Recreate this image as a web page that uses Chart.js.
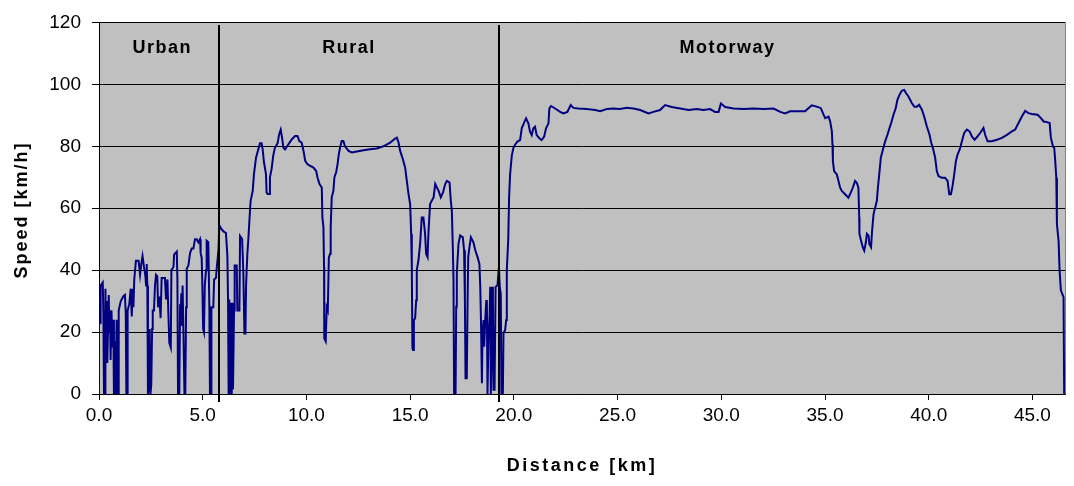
<!DOCTYPE html>
<html><head><meta charset="utf-8">
<script src="https://cdn.jsdelivr.net/npm/chart.js@4/dist/chart.umd.min.js"></script>
<style>html,body{margin:0;padding:0;background:#fff;}#wrap{width:1074px;height:486px;}</style>
</head><body><div id="wrap"><canvas id="c" width="1074" height="486"></canvas></div>
<script>
const distanceKm = [
0.0,0.0,0.05,0.08,0.18,0.21,0.24,0.29,0.31,0.34,0.37,0.40,0.47,0.50,0.53,0.56,0.60,0.66,0.69,0.72,
0.77,0.80,0.85,0.88,0.93,0.95,1.05,1.17,1.25,1.29,1.32,1.37,1.38,1.46,1.53,1.58,1.62,1.66,1.70,1.78,
1.91,1.98,2.04,2.10,2.17,2.23,2.27,2.30,2.33,2.36,2.41,2.44,2.48,2.52,2.56,2.59,2.65,2.70,2.75,2.81,
2.85,2.91,2.97,3.02,3.18,3.23,3.30,3.34,3.39,3.46,3.49,3.59,3.62,3.75,3.78,3.81,3.87,3.91,3.94,3.97,
4.00,4.03,4.07,4.12,4.16,4.20,4.23,4.31,4.39,4.47,4.55,4.63,4.71,4.79,4.87,4.90,4.95,4.98,5.02,5.06,
5.10,5.16,5.19,5.27,5.32,5.35,5.40,5.42,5.51,5.55,5.64,5.68,5.76,5.80,5.88,6.00,6.12,6.19,6.22,6.25,
6.28,6.32,6.35,6.40,6.42,6.46,6.51,6.54,6.64,6.67,6.77,6.80,6.90,6.96,7.01,7.06,7.09,7.15,7.20,7.25,
7.31,7.41,7.47,7.57,7.68,7.76,7.84,7.89,7.95,8.05,8.08,8.13,8.21,8.24,8.32,8.40,8.48,8.61,8.69,8.76,
8.82,8.89,8.97,9.13,9.29,9.45,9.57,9.66,9.77,9.86,9.94,10.05,10.18,10.34,10.47,10.53,10.63,10.74,10.77,10.82,
10.85,10.86,10.93,10.98,11.03,11.08,11.14,11.17,11.22,11.30,11.35,11.43,11.50,11.56,11.62,11.70,11.78,11.86,12.03,12.19,
12.43,12.75,13.07,13.39,13.71,14.04,14.28,14.36,14.44,14.52,14.65,14.76,14.84,14.92,15.00,15.05,15.08,15.11,15.14,15.18,
15.24,15.29,15.32,15.40,15.48,15.56,15.64,15.72,15.77,15.84,15.88,15.96,16.04,16.13,16.21,16.29,16.37,16.48,16.58,16.69,
16.77,16.90,16.96,17.01,17.06,17.09,17.12,17.19,17.22,17.25,17.33,17.41,17.54,17.60,17.64,17.67,17.73,17.77,17.80,17.86,
17.93,18.05,18.14,18.25,18.34,18.38,18.42,18.46,18.49,18.54,18.57,18.62,18.67,18.70,18.73,18.78,18.83,18.86,18.89,18.92,
18.96,18.99,19.02,19.07,19.12,19.21,19.28,19.32,19.37,19.40,19.47,19.50,19.58,19.63,19.66,19.73,19.77,19.82,19.90,19.98,
20.06,20.17,20.30,20.38,20.51,20.59,20.70,20.78,20.86,20.94,21.02,21.10,21.23,21.34,21.46,21.55,21.67,21.71,21.79,21.99,
22.23,22.39,22.58,22.74,22.87,23.11,23.51,23.92,24.16,24.48,24.80,25.12,25.44,25.77,26.09,26.49,26.73,27.05,27.29,27.61,
28.02,28.42,28.82,29.14,29.46,29.70,29.87,29.98,30.19,30.59,31.07,31.55,32.04,32.52,32.84,33.08,33.32,33.64,34.04,34.20,
34.36,34.60,34.80,34.93,35.01,35.17,35.25,35.33,35.36,35.38,35.44,35.57,35.65,35.73,35.81,35.97,36.13,36.24,36.34,36.45,
36.53,36.61,36.65,36.66,36.74,36.82,36.89,36.97,37.02,37.10,37.14,37.22,37.27,37.34,37.42,37.50,37.55,37.63,37.69,37.79,
37.90,38.01,38.11,38.19,38.30,38.41,38.49,38.59,38.70,38.82,38.91,39.03,39.19,39.31,39.43,39.54,39.67,39.78,39.91,40.04,
40.12,40.20,40.31,40.39,40.47,40.63,40.79,40.91,40.99,41.07,41.15,41.23,41.31,41.39,41.49,41.60,41.71,41.84,41.97,42.08,
42.21,42.32,42.48,42.64,42.72,42.84,43.04,43.29,43.53,43.77,44.01,44.17,44.33,44.49,44.65,44.81,44.97,45.25,45.41,45.54,
45.70,45.83,45.89,45.99,46.05,46.10,46.15,46.18,46.26,46.31,46.37,46.50,46.53
];
const speedKmh = [
0,22.4,23,35,36,27,0,0,34,12,30,10,32,20,27,11,27,15,24,0,
17,0,24,0,0,27,30,31.5,32,26,0,0,27,29,34,25,34,28,37,43,
43,38.5,42,44.5,41,38.5,35,42,35,0,2.5,21,0,3,21,27,27,35,38.5,38,
28,31.5,24.5,37.5,37.5,30.5,37,27,16.5,15,40,41,45,46,37,0,0,29,26,32.5,
22,35,20,0,0,28,40.5,41.5,45.5,47,47,50,50,49,50,45.5,44,36,21,20,
35,40,49.5,49,28,0,0,28,28,37,37.5,41,46.5,54.5,53.5,52.5,52,44.5,30.5,0,
30.5,0,29.5,0,29.5,1.5,27,41.5,41.5,27,27,51,50,39,19.5,19.5,35,45,50,56,
62.4,65.6,71,76.3,79,81,81,79,75,71,65,64.6,64.6,70,72.6,77,79.5,81,84,85.4,
83,79.5,79,80.6,82.2,83.3,83.3,81.7,81.2,78.5,75.3,74.2,73.7,73.1,72,70,67.8,66.7,57,53.9,
41,18,17,28,27,44,45.3,53.9,63.5,65.6,70,71.5,74.2,77.4,79.5,81.7,81.7,80,78.5,78,
78.3,78.7,79,79.3,80,81.2,82.5,82.8,81.2,78.5,75.8,73.1,68.8,64.6,61.3,51.7,41,14.8,14.2,23.9,
24.4,30.3,40,43.1,48.5,57,57,51.7,45.3,44.2,51.7,61.3,62.4,63.5,67.8,66.7,65.6,63.5,65,67.8,
68.8,68.3,62.4,59.2,46.4,36.7,0,0,28.2,38.9,48.5,51.2,50.6,46.4,30.3,5.1,5.1,30.3,44.2,47.4,
50.6,49,46.4,44.2,42,34.6,21.7,3.5,19.6,23.9,15.3,23.9,30.3,28.2,0,19.6,25,34.6,0,8.9,
34.6,30.3,1.4,1.4,34.6,35.1,41,34.6,32.4,0,0,19.6,20.7,23.9,40,50,63.5,71,77,79.5,
80.5,81.5,82,85.8,87.9,89,87.4,84.7,83.6,85.8,86.3,83.6,82.6,82,83.1,85.8,87.4,92.2,93,92.2,
91.1,90.6,91.1,93.3,92.4,92.2,92,91.7,91.3,92,92.2,92,92.4,92.2,91.7,90.6,91.1,91.7,93.3,92.7,
92.2,91.7,92,91.7,92,91.1,91.1,93.8,92.7,92.2,92,92.2,92,92.2,91.1,90.6,91.3,91.3,91.3,92.3,
93.2,92.8,92.3,90.2,89.1,89.6,88,84.8,80.5,75.2,72,70.9,68.8,66.6,65.6,64.5,63.4,65,66.6,68.8,
68.2,66.6,57,51.7,49.5,47.4,46.3,49,51.7,51.1,48.4,47.4,52.7,58.1,60.2,62.4,66.6,72,76.3,78.9,
81.6,83.7,85.9,87.5,90.2,92.3,95,96.6,97.9,98.2,97.1,96,93.9,92.8,92.8,93.4,91.8,89.6,86.4,83.7,
81.1,79.5,76.3,72,70.4,69.8,69.8,68.8,64.5,64.5,67.2,70.9,75.2,77.3,78.9,81.6,84.3,85.4,84.8,83.2,
82.1,82.9,84.3,85.9,83.7,81.6,81.6,82.1,82.7,83.7,84.8,85.4,87.5,89.6,91.4,90.7,90.4,90.2,89.1,88,
87.8,87.5,82.7,80,79.5,75.2,69.8,54.9,49.5,39.9,33.5,31.3,0
];
const xTickValues = [0, 5, 10, 15, 20, 25, 30, 35, 40, 45];
const yTickValues = [0, 20, 40, 60, 80, 100, 120];
const sectionBoundsKm = [5.8, 19.3];
const sectionNames = ['Urban', 'Rural', 'Motorway'];
const sectionLabelKm = [3.05, 12.05, 30.3];
const xAxisTitle = 'Distance [km]';
const yAxisTitle = 'Speed [km/h]';

const FONT = "'Liberation Sans', Arial, sans-serif";
const points = distanceKm.map((d, i) => ({x: d, y: speedKmh[i]}));

const decor = {
  id: 'decor',
  beforeDraw(chart) {
    const {ctx, chartArea: a} = chart;
    ctx.save();
    ctx.fillStyle = '#C0C0C0';
    ctx.fillRect(a.left, a.top, a.right - a.left, a.bottom - a.top);
    ctx.strokeStyle = '#808080';
    ctx.lineWidth = 1;
    ctx.strokeRect(Math.round(a.left) + 0.5, Math.round(a.top) + 0.5, Math.round(a.right - a.left), Math.round(a.bottom - a.top));
    ctx.restore();
  },
  afterDatasetsDraw(chart) {
    const {ctx} = chart;
    const xs = chart.scales.x;
    ctx.save();
    ctx.strokeStyle = '#000';
    ctx.lineWidth = 2;
    sectionBoundsKm.forEach(b => {
      const px = Math.round(xs.getPixelForValue(b));
      ctx.beginPath();
      ctx.moveTo(px, 25);
      ctx.lineTo(px, 402);
      ctx.stroke();
    });
    ctx.fillStyle = '#000';
    ctx.textAlign = 'center';
    ctx.textBaseline = 'middle';
    ctx.font = 'bold 18px ' + FONT;
    ctx.letterSpacing = '1.5px';
    sectionNames.forEach((n, i) => {
      ctx.fillText(n, xs.getPixelForValue(sectionLabelKm[i]), 48);
    });
    ctx.letterSpacing = '2.5px';
    ctx.fillText(xAxisTitle, 582, 466);
    ctx.letterSpacing = '2px';
    ctx.translate(22, 210);
    ctx.rotate(-Math.PI / 2);
    ctx.fillText(yAxisTitle, 0, 0);
    ctx.restore();
  }
};

new Chart(document.getElementById('c'), {
  type: 'line',
  data: {
    datasets: [{
      data: points,
      borderColor: '#000080',
      borderWidth: 2,
      pointRadius: 0,
      fill: false,
      tension: 0
    }]
  },
  options: {
    responsive: false,
    animation: false,
    devicePixelRatio: 1,
    layout: {padding: {top: 20, right: 9, bottom: 0, left: 0}},
    plugins: {legend: {display: false}, tooltip: {enabled: false}},
    scales: {
      x: {
        type: 'linear',
        min: 0,
        max: 46.57,
        afterBuildTicks: s => { s.ticks = xTickValues.map(v => ({value: v})); },
        afterFit: s => { s.height = 92; },
        ticks: {
          callback: v => Number(v).toFixed(1),
          font: {family: FONT, size: 19},
          color: '#000',
          padding: 4,
          maxRotation: 0,
          autoSkip: false
        },
        grid: {drawOnChartArea: false, drawTicks: true, tickLength: 6, color: '#000'},
        border: {color: '#000', width: 1}
      },
      y: {
        min: 0,
        max: 120,
        afterBuildTicks: s => { s.ticks = yTickValues.map(v => ({value: v})); },
        afterFit: s => { s.width = 99; },
        ticks: {
          font: {family: FONT, size: 19},
          color: '#000',
          padding: 11
        },
        grid: {color: '#000', lineWidth: 1, drawTicks: true, tickLength: 7},
        border: {color: '#000', width: 1}
      }
    }
  },
  plugins: [decor]
});
</script>
</body></html>
